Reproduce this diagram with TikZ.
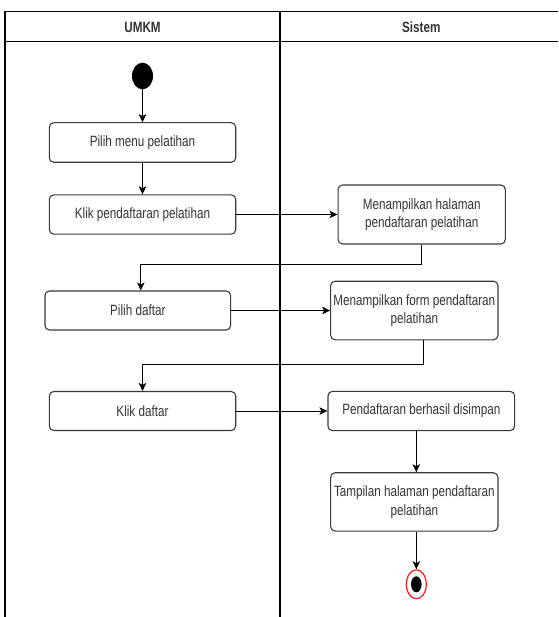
\documentclass[tikz,border=0pt]{standalone}
\usepackage{fontspec}
\setmainfont{Liberation Sans}[FakeStretch=0.785]
\usetikzlibrary{arrows.meta,shapes.geometric}
\definecolor{boxgray}{HTML}{3A3A3A}
\definecolor{txtgray}{HTML}{333333}
\definecolor{endred}{HTML}{FF1A1A}
\begin{document}
\begin{tikzpicture}[x=1pt,y=-1pt,
  act/.style={draw=boxgray, line width=1.1pt, rounded corners=4.5pt, inner sep=0pt,
    align=center, text=txtgray, font=\fontsize{14.9}{18.5}\selectfont},
  hdr/.style={inner sep=0pt, text=txtgray, font=\fontsize{14.9}{18.5}\selectfont\bfseries},
  arr/.style={draw=black, line width=0.9pt, -{Stealth[length=8pt,width=7.5pt,inset=2pt]}},
  lane/.style={draw=black, line width=1.1pt}]
\useasboundingbox (0,0) rectangle (558,617);
% swimlanes
\draw[lane] (5,617) -- (5,11.7) -- (558,11.7);
\draw[lane] (5,41.7) -- (558,41.7);
\draw[lane] (280,11.7) -- (280,617);
\node[hdr] (h1) at (142.5,27.3) {UMKM};
\node[hdr] (h2) at (421.3,27.3) {Sistem};
% start
\node[fill=black, ellipse, minimum width=21pt, minimum height=26.6pt, inner sep=0pt] (start) at (142.5,76) {};
% activities
\node[act, minimum width=186.4pt, minimum height=39.6pt] (pm) at (142.5,142.5) {Pilih menu pelatihan};
\node[act, minimum width=186.4pt, minimum height=39.3pt] (kp) at (142.5,214.5) {Klik pendaftaran pelatihan};
\node[act, minimum width=167.3pt, minimum height=59pt] (mh) at (421.7,214.5) {Menampilkan halaman\\pendaftaran pelatihan};
\node[act, minimum width=185.7pt, minimum height=39pt] (pd) at (137.8,310.5) {Pilih daftar};
\node[act, minimum width=167.3pt, minimum height=58.6pt] (mf) at (414.3,310.5) {Menampilkan form pendaftaran\\pelatihan};
\node[act, minimum width=186.4pt, minimum height=39pt] (kd) at (142.5,411) {Klik daftar};
\node[act, minimum width=186.7pt, minimum height=39.3pt] (pb) at (421.3,411) {Pendaftaran berhasil disimpan};
\node[act, minimum width=167.3pt, minimum height=58.3pt] (tp) at (414.3,501.9) {Tampilan halaman pendaftaran\\pelatihan};
% final
\node[draw=endred, line width=1.2pt, fill=white, ellipse, minimum width=20pt, minimum height=29pt, inner sep=0pt] (fin) at (416.3,584.3) {};
\node[fill=black, ellipse, minimum width=10.6pt, minimum height=16pt, inner sep=0pt] (finin) at (fin.center) {};
% connectors
\draw[arr] (start.south) -- (pm.north);
\draw[arr] (pm.south) -- (kp.north);
\draw[arr] (kp.east) -- (mh.west);
\draw[arr] (mh.south) -- ++(0,20) -| ([xshift=3pt]pd.north);
\draw[arr] (pd.east) -- (mf.west);
\draw[arr] ([xshift=9.4pt]mf.south) -- ++(0,24) -| (kd.north);
\draw[arr] (kd.east) -- (pb.west);
\draw[arr] ([xshift=-5pt]pb.south) -- ([xshift=2pt]tp.north);
\draw[arr] ([xshift=2pt]tp.south) -- (fin.north);
\end{tikzpicture}
\end{document}
